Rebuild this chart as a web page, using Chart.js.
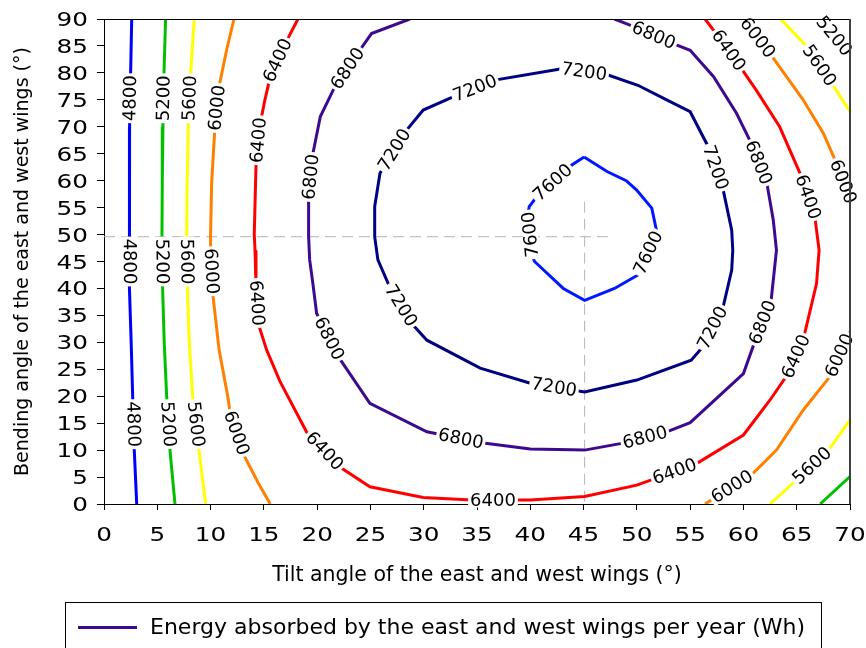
<!DOCTYPE html>
<html>
<head>
<meta charset="utf-8">
<script src="https://cdn.jsdelivr.net/npm/chart.js@4.4.0/dist/chart.umd.min.js"></script>
<style>
  html, body { margin: 0; padding: 0; background: #fff; }
</style>
</head>
<body>
<canvas id="chart" width="866" height="648"></canvas>
<script>
// ===== Contour lines: [tilt (°), bending (°)] =====
const C4800      = [[2.6,90],[2.5,80],[2.4,70],[2.37,60],[2.37,50],[2.42,40],[2.55,30],[2.69,20],[2.84,10],[3.07,0]];
const C5200_LEFT = [[5.78,90],[5.63,80],[5.53,70],[5.47,60],[5.44,50],[5.5,40],[5.65,30],[5.88,20],[6.19,10],[6.66,0]];
const C5600_LEFT = [[8.47,90],[8.13,80],[7.91,70],[7.8,60],[7.76,50],[7.82,40],[8.0,30],[8.32,20],[8.91,10],[9.54,0]];
const C6000_LEFT = [[12.2,90],[11.5,84.2],[10.79,77.4],[10.41,70],[10.1,59.5],[10.0,50],[10.0,47],[10.2,39.1],
                    [10.8,28.6],[11.6,20.1],[11.9,16.2],[13.2,8.8],[14.5,3.8],[15.6,0]];
const C6400      = [[18.2,90],[17.1,85.8],[15.6,79.3],[15.1,75],[14.6,70],[14.26,62.6],[14.1,50],[14.17,47.1],
                    [14.26,40.9],[14.47,33.5],[15.26,28.6],[16.5,22.8],[19.0,13.4],[22.1,6.9],[24.95,3.2],
                    [29.95,1.2],[34.5,0.74],[40.0,0.74],[45.1,1.4],[50.0,3.5],[55.6,7.5],[60.0,12.8],[62.5,19.3],
                    [64.2,24.2],[65.6,30.4],[66.86,40.9],[67.1,47.1],[66.7,53.3],[65.3,61.4],[63.4,70],
                    [61.2,76.8],[59.7,81.1],[58.4,84.8],[56.4,90]];
const C6800      = [[28.7,90],[25.1,87.3],[24.0,84.2],[21.5,76.8],[20.3,71.9],[19.6,65],[19.2,56.4],[19.2,49.6],
                    [19.3,45.3],[19.6,40.9],[19.95,35.4],[22.0,27.3],[24.95,18.7],[30.3,13.4],[35.6,11.3],
                    [40.0,10.2],[45.1,10.0],[48.7,11.3],[52.8,13.4],[55.0,15.1],[60.0,24.2],[60.9,29.2],
                    [62.6,37.8],[63.1,47.1],[62.8,52.7],[62.2,59.5],[60.6,67.5],[59.35,72.5],[57.2,79.3],
                    [55.0,84.2],[53.7,85.2],[49.3,88.9],[47.9,90]];
const C7200      = [[43.1,80.8],[36.8,78.7],[32.8,75.6],[29.95,73.1],[28.4,69.4],[25.9,61.4],[25.4,55.2],
                    [25.4,49.6],[25.7,45.3],[26.8,40.3],[29.0,33.2],[30.3,30.4],[35.3,25.2],[40.0,22.4],
                    [45.1,20.8],[50.0,23.0],[55.1,26.7],[56.2,29.2],[58.1,36.6],[58.9,43.4],[59.0,47.1],
                    [58.9,50.8],[58.1,58.3],[56.7,66.3],[55.0,72.8],[52.8,75.0],[50.1,77.7],[47.3,79.6],[43.1,80.8]];
const C7600      = [[45.05,64.4],[47.2,61.7],[49.0,60.0],[49.96,58.3],[51.4,54.9],[51.9,50.2],[50.1,42.5],
                    [47.9,40.0],[45.1,37.8],[43.1,40.0],[40.4,45.0],[40.2,46.0],[39.8,53.9],[39.9,55.2],
                    [40.6,57.0],[43.9,62.9],[45.05,64.4]];
const C6000_TOP  = [[60.0,90],[62.6,83.3],[65.6,75.0],[67.5,68.8],[68.6,63.8],[70,56.5]];
const C6000_BOT  = [[70,32],[68.1,23.6],[65.6,17.4],[63.1,10.0],[60.9,5.7],[56.4,0]];
const C5600_TOP  = [[63.5,90],[65.8,85.2],[68.3,78.0],[70,72.8]];
const C5600_BOT  = [[70,15.6],[68,10.0],[65,4.5],[62.5,0]];
const C5200_TOP  = [[67.2,90],[70,83.3]];
const C5200_BOT  = [[70,5.1],[67.2,0]];

// Optimum crosshair (tilt 45°, bending ~50°)
const GUIDE_H = [[0,49.6],[47.6,49.6]];
const GUIDE_V = [[45.1,56.1],[45.1,0]];

// Contour labels: [level, tilt, bending, flip]
const LABELS = [
  [4800,2.5,75.3],[4800,2.4,45],[4800,2.75,14.8],
  [5200,5.58,75.3],[5200,5.47,45],[5200,6.0,14.8],[5200,68.3,86.5],
  [5600,8.0,75.3],[5600,7.78,45],[5600,8.6,14.8],[5600,67.0,81.2],[5600,66.4,7.2],
  [6000,10.6,73.5],[6000,10.05,43.2],[6000,12.5,13.2],[6000,61.2,86.3],[6000,69.2,59.7],[6000,69.1,27.5],[6000,59,3.0],
  [6400,16.2,82.4],[6400,14.5,67.5],[6400,14.4,37.3],[6400,20.3,9.1],[6400,36.5,0.5],[6400,53.7,5.2],
  [6400,65.0,27.3],[6400,66.1,57],[6400,58.5,84],
  [6800,22.8,80.9],[6800,19.4,60.7],[6800,21.0,30.6],[6800,33.4,11.3],[6800,50.75,12.4],
  [6800,62.2,33.4],[6800,61.1,63.1],[6800,51.5,86.6],
  [7200,34.8,77.2],[7200,27.1,65.9],[7200,27.6,36.5],[7200,42.2,21.3],[7200,57.0,32.8],[7200,57.2,62.3],[7200,45.1,80.9],
  [7600,41.9,60.1],[7600,39.9,50.0,true],[7600,51.1,46.6]
];

const X_TITLE = 'Tilt angle of the east and west wings (°)';
const Y_TITLE = 'Bending angle of the east and west wings (°)';
const SERIES_LABEL = 'Energy absorbed by the east and west wings per year (Wh)';

const SEGMENTS = [
  { level: 4800, points: C4800 },
  { level: 5200, points: C5200_LEFT }, { level: 5200, points: C5200_TOP }, { level: 5200, points: C5200_BOT },
  { level: 5600, points: C5600_LEFT }, { level: 5600, points: C5600_TOP }, { level: 5600, points: C5600_BOT },
  { level: 6000, points: C6000_LEFT }, { level: 6000, points: C6000_TOP }, { level: 6000, points: C6000_BOT },
  { level: 6400, points: C6400 },
  { level: 6800, points: C6800 },
  { level: 7200, points: C7200 },
  { level: 7600, points: C7600 },
];

const LEVEL_COLORS = {
  4800: '#0000ff', 5200: '#00c000', 5600: '#ffff00', 6000: '#ff8000',
  6400: '#ff0000', 6800: '#3d0a8f', 7200: '#000080', 7600: '#0018ff'
};
const LEGEND_COLOR = LEVEL_COLORS[6800];
const FONT = "'DejaVu Sans', sans-serif";
const TICK_STRETCH = 1.3; // tick digits are drawn wide

const toXY = pts => pts.map(([x, y]) => ({ x, y }));

const datasets = SEGMENTS.map(s => ({
  label: String(s.level),
  data: toXY(s.points),
  showLine: true,
  borderColor: LEVEL_COLORS[s.level],
  borderWidth: 3,
  pointRadius: 0,
  tension: 0,
  fill: false
}));
// guide lines go last so they sit under the contours
[GUIDE_H, GUIDE_V].forEach(g => datasets.push({
  label: 'guide',
  data: toXY(g),
  showLine: true,
  borderColor: '#b4b4b4',
  borderWidth: 1,
  borderDash: [11, 6],
  pointRadius: 0,
  tension: 0
}));

// nearest point on a level's polylines, in pixels, plus the local direction
function snapToContour(chart, level, x, y) {
  const xs = chart.scales.x, ys = chart.scales.y;
  const px = xs.getPixelForValue(x), py = ys.getPixelForValue(y);
  let best = null;
  SEGMENTS.filter(s => s.level === level).forEach(s => {
    for (let i = 0; i < s.points.length - 1; i++) {
      const ax = xs.getPixelForValue(s.points[i][0]), ay = ys.getPixelForValue(s.points[i][1]);
      const bx = xs.getPixelForValue(s.points[i + 1][0]), by = ys.getPixelForValue(s.points[i + 1][1]);
      const dx = bx - ax, dy = by - ay;
      const len2 = dx * dx + dy * dy;
      let t = len2 ? ((px - ax) * dx + (py - ay) * dy) / len2 : 0;
      t = Math.max(0, Math.min(1, t));
      const qx = ax + t * dx, qy = ay + t * dy;
      const d = (qx - px) ** 2 + (qy - py) ** 2;
      if (!best || d < best.d) best = { d, x: qx, y: qy, angle: Math.atan2(dy, dx) };
    }
  });
  return best;
}

// ===== Plugin: inline contour labels =====
const contourLabelsPlugin = {
  id: 'contourLabels',
  afterDatasetsDraw(chart) {
    const ctx = chart.ctx;
    ctx.save();
    ctx.font = '18px ' + FONT;
    ctx.textAlign = 'center';
    ctx.textBaseline = 'middle';
    LABELS.forEach(([level, x, y, flip]) => {
      const p = snapToContour(chart, level, x, y);
      if (!p) return;
      let a = p.angle;
      while (a > Math.PI / 2 + 1e-6) a -= Math.PI;
      while (a < -Math.PI / 2 - 1e-6) a += Math.PI;
      if (flip) a += Math.PI;
      const text = String(level);
      const w = ctx.measureText(text).width;
      ctx.save();
      ctx.translate(p.x, p.y);
      ctx.rotate(a);
      ctx.fillStyle = '#fff';
      ctx.fillRect(-w / 2 - 2, -7.5, w + 4, 15);
      ctx.fillStyle = '#000';
      ctx.fillText(text, 0, 1);
      ctx.restore();
    });
    ctx.restore();
  }
};

// ===== Plugin: wide tick labels, top/right frame and the boxed legend =====
const frameAndLegendPlugin = {
  id: 'frameAndLegend',
  afterDraw(chart) {
    const { ctx, chartArea: a } = chart;
    const xs = chart.scales.x, ys = chart.scales.y;
    ctx.save();

    // tick labels (Chart.js keeps them for layout, drawn transparent)
    ctx.fillStyle = '#000';
    ctx.font = '19px ' + FONT;
    ctx.textBaseline = 'alphabetic';
    xs.ticks.forEach(t => {
      ctx.save();
      ctx.translate(xs.getPixelForValue(t.value), a.bottom + 37);
      ctx.scale(TICK_STRETCH, 1);
      ctx.textAlign = 'center';
      ctx.fillText(t.label, 0, 0);
      ctx.restore();
    });
    ys.ticks.forEach(t => {
      ctx.save();
      ctx.translate(a.left - 16, ys.getPixelForValue(t.value) + 7);
      ctx.scale(TICK_STRETCH, 1);
      ctx.textAlign = 'right';
      ctx.fillText(t.label, 0, 0);
      ctx.restore();
    });

    ctx.strokeStyle = '#000';
    ctx.lineWidth = 1;
    ctx.beginPath();
    ctx.moveTo(a.left, a.top + 0.5);
    ctx.lineTo(a.right, a.top + 0.5);
    ctx.stroke();
    ctx.strokeStyle = '#404040';
    ctx.lineWidth = 2;
    ctx.beginPath();
    ctx.moveTo(a.right, a.top);
    ctx.lineTo(a.right, a.bottom);
    ctx.stroke();

    // legend
    ctx.strokeStyle = '#000';
    ctx.lineWidth = 1;
    ctx.strokeRect(65.5, 602.5, 756, 60);
    ctx.strokeStyle = LEGEND_COLOR;
    ctx.lineWidth = 3;
    ctx.beginPath();
    ctx.moveTo(78, 627.5);
    ctx.lineTo(137, 627.5);
    ctx.stroke();
    ctx.fillStyle = '#000';
    ctx.font = '22px ' + FONT;
    ctx.textBaseline = 'middle';
    ctx.textAlign = 'left';
    ctx.fillText(SERIES_LABEL, 150, 628);
    ctx.restore();
  }
};

new Chart(document.getElementById('chart'), {
  type: 'scatter',
  data: { datasets },
  plugins: [contourLabelsPlugin, frameAndLegendPlugin],
  options: {
    responsive: false,
    devicePixelRatio: 1,
    animation: false,
    layout: { padding: { top: 19, right: 16, bottom: 54, left: 0 } },
    plugins: { legend: { display: false }, tooltip: { enabled: false } },
    scales: {
      x: {
        type: 'linear', min: 0, max: 70,
        ticks: { stepSize: 5, autoSkip: false, color: 'rgba(0,0,0,0)', font: { family: FONT, size: 19 }, padding: 12, maxRotation: 0 },
        grid: { drawOnChartArea: false, drawTicks: true, tickLength: 6, color: '#000' },
        border: { display: true, color: '#000', width: 1 },
        title: { display: true, text: X_TITLE, color: '#000', font: { family: FONT, size: 20.5 }, padding: { top: 0, bottom: 6 } },
        afterFit(scale) {
          scale.height = 90;
          scale.paddingLeft = 0;
          scale.paddingRight = 0;
        }
      },
      y: {
        type: 'linear', min: 0, max: 90,
        ticks: { stepSize: 5, autoSkip: false, color: 'rgba(0,0,0,0)', font: { family: FONT, size: 19 }, padding: 9 },
        grid: { drawOnChartArea: false, drawTicks: true, tickLength: 7, color: '#000' },
        border: { display: true, color: '#000', width: 1 },
        title: { display: true, text: Y_TITLE, color: '#000', font: { family: FONT, size: 19 }, padding: { top: 12, bottom: 0 } },
        afterFit(scale) {
          scale.width = 104;
          scale.paddingTop = 0;
          scale.paddingBottom = 0;
        }
      }
    }
  }
});
</script>
</body>
</html>
